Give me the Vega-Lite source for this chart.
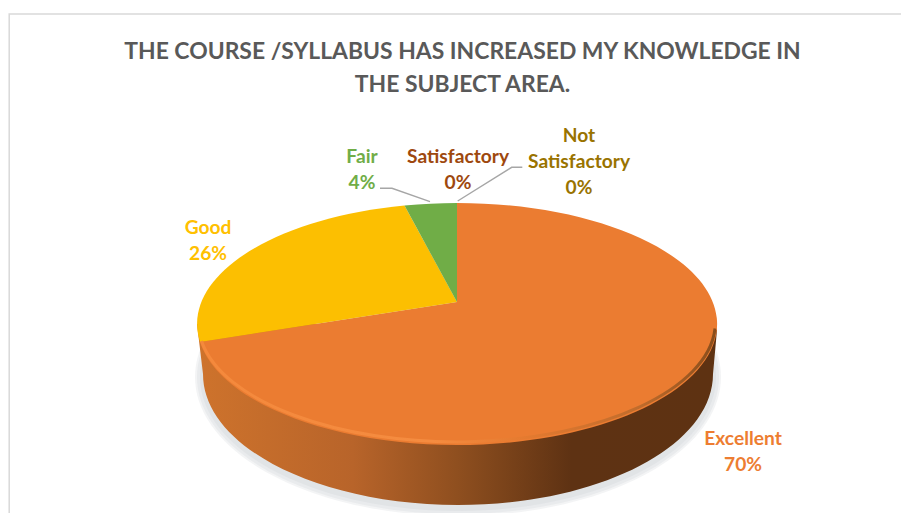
{
  "$schema": "https://vega.github.io/schema/vega-lite/v6.json",
  "width": 901,
  "height": 513,
  "padding": 0,
  "autosize": "none",
  "background": "white",
  "config": {"view": {"stroke": null}},
  "title": {
    "text": ["THE COURSE /SYLLABUS HAS INCREASED MY KNOWLEDGE IN", "THE SUBJECT AREA."],
    "font": "Lato", "fontSize": 22.9, "fontWeight": "bold", "color": "#595959",
    "anchor": "middle", "frame": "group", "dx": 12, "offset": -120, "lineHeight": 33, "baseline": "bottom"
  },
  "data": {"values": [
    {"category": "Excellent", "value": 70, "label": "Excellent\n70%"},
    {"category": "Good", "value": 26, "label": "Good\n26%"},
    {"category": "Fair", "value": 4, "label": "Fair\n4%"},
    {"category": "Satisfactory", "value": 0, "label": "Satisfactory\n0%"},
    {"category": "Not Satisfactory", "value": 0, "label": "Not\nSatisfactory\n0%"}
  ]},
  "resolve": {"scale": {"shape": "independent", "color": "independent"}},
  "layer": [
    {
      "data": {"values": [{"part": "s1"}, {"part": "s2"}, {"part": "s3"}]},
      "mark": {"type": "point", "filled": true, "size": 4, "fill": "#c4c6cc", "opacity": 0.2, "strokeWidth": 0},
      "encoding": {"shape": {"field": "part", "type": "nominal", "legend": null, "scale": {
        "domain": ["s1", "s2", "s3"],
        "range": [
          "M-255.5,120.5 A263,139 0 1,0 270.5,120.5 A263,139 0 1,0 -255.5,120.5 Z",
          "M-253.5,120.5 A261,137 0 1,0 268.5,120.5 A261,137 0 1,0 -253.5,120.5 Z",
          "M-250.5,120.5 A258,134 0 1,0 265.5,120.5 A258,134 0 1,0 -250.5,120.5 Z"
        ]}}}
    },
    {
      "data": {"values": [{"part": "side"}]},
      "mark": {"type": "point", "filled": true, "size": 4, "strokeWidth": 0, "opacity": 1,
        "shape": "M-253.5,67.5 L-247.5,117.5 A255,131 0 0,0 262.5,117.5 L266.5,73.5 L6.5,67.5 Z",
        "fill": {"gradient": "linear", "x1": 0, "y1": 0, "x2": 1, "y2": 0, "stops": [
          {"offset": 0, "color": "#CE732C"},
          {"offset": 0.3, "color": "#B8642A"},
          {"offset": 0.5, "color": "#8F4F1F"},
          {"offset": 0.72, "color": "#5E3213"},
          {"offset": 1, "color": "#5E3212"}
        ]}
      },
      "encoding": {}
    },
    {
      "mark": {"type": "point", "filled": true, "size": 4, "opacity": 1, "strokeWidth": 0},
      "encoding": {
        "shape": {"field": "category", "type": "nominal", "legend": null, "scale": {
          "domain": ["Excellent", "Good", "Fair", "Satisfactory", "Not Satisfactory"],
          "range": [
            "M6.5,45.5 L6.5,-53.5 A260,121 0 1,1 -250.5,85.5 Z",
            "M6.5,45.5 L-250.5,85.5 A260,121 0 0,1 -46,-51 Z",
            "M6.5,45.5 L-46,-51 A260,121 0 0,1 6.5,-53.5 Z",
            "M6.5,45.5 L6.5,-53.5 Z",
            "M6.5,45.5 L6.5,-53.5 Z"
          ]}},
        "color": {"field": "category", "type": "nominal", "legend": null, "scale": {
          "domain": ["Excellent", "Good", "Fair", "Satisfactory", "Not Satisfactory"],
          "range": ["#EB7C31", "#FCBF01", "#70AD47", "#9E480E", "#997300"]}}
      }
    },
    {
      "data": {"values": [{"part": "rim"}]},
      "mark": {"type": "point", "filled": false, "size": 4, "opacity": 1, "strokeWidth": 3, "fill": null,
        "shape": "M-249,84.5 A258.5,119.5 0 0,0 264.5,72",
        "stroke": {"gradient": "linear", "x1": 0, "y1": 0, "x2": 1, "y2": 0, "stops": [
          {"offset": 0, "color": "#F4893C"},
          {"offset": 0.45, "color": "#F58C40"},
          {"offset": 0.62, "color": "#E67B30"},
          {"offset": 0.85, "color": "#C06C2C"},
          {"offset": 1, "color": "#8A4E1C"}
        ]}
      },
      "encoding": {}
    },
    {
      "data": {"values": [{"part": "leader"}]},
      "mark": {"type": "point", "filled": false, "size": 4, "opacity": 1, "strokeWidth": 1.4, "stroke": "#A6A6A6", "fill": null,
        "shape": "M-70.5,-68.2 L-58.5,-68.2 L-20.5,-54.8 M71.8,-89.2 L61.2,-89.2 L7.2,-55.5"},
      "encoding": {}
    },
    {
      "data": {"values": [{"part": "frame"}]},
      "mark": {"type": "point", "filled": false, "size": 4, "opacity": 1, "strokeWidth": 1.5, "stroke": "#D9D9D9", "fill": null,
        "shape": "M-441.3,256.5 L-441.3,-242.5 L450.5,-242.5"},
      "encoding": {}
    },
    {
      "transform": [{"filter": "datum.category === 'Excellent'"}],
      "mark": {"type": "text", "font": "Lato", "fontWeight": "bold", "fontSize": 19.2, "lineHeight": 26, "lineBreak": "\n", "align": "center", "baseline": "middle", "color": "#ED7D31", "dx": 292.5, "dy": 182},
      "encoding": {"text": {"field": "label"}}
    },
    {
      "transform": [{"filter": "datum.category === 'Good'"}],
      "mark": {"type": "text", "font": "Lato", "fontWeight": "bold", "fontSize": 19.2, "lineHeight": 26, "lineBreak": "\n", "align": "center", "baseline": "middle", "color": "#FFC000", "dx": -242.5, "dy": -28.5},
      "encoding": {"text": {"field": "label"}}
    },
    {
      "transform": [{"filter": "datum.category === 'Fair'"}],
      "mark": {"type": "text", "font": "Lato", "fontWeight": "bold", "fontSize": 19.2, "lineHeight": 26, "lineBreak": "\n", "align": "center", "baseline": "middle", "color": "#70AD47", "dx": -88.5, "dy": -100},
      "encoding": {"text": {"field": "label"}}
    },
    {
      "transform": [{"filter": "datum.category === 'Satisfactory'"}],
      "mark": {"type": "text", "font": "Lato", "fontWeight": "bold", "fontSize": 19.2, "lineHeight": 26, "lineBreak": "\n", "align": "center", "baseline": "middle", "color": "#9E480E", "dx": 7.5, "dy": -100},
      "encoding": {"text": {"field": "label"}}
    },
    {
      "transform": [{"filter": "datum.category === 'Not Satisfactory'"}],
      "mark": {"type": "text", "font": "Lato", "fontWeight": "bold", "fontSize": 19.2, "lineHeight": 26, "lineBreak": "\n", "align": "center", "baseline": "middle", "color": "#997300", "dx": 128.5, "dy": -120.5},
      "encoding": {"text": {"field": "label"}}
    }
  ]
}
